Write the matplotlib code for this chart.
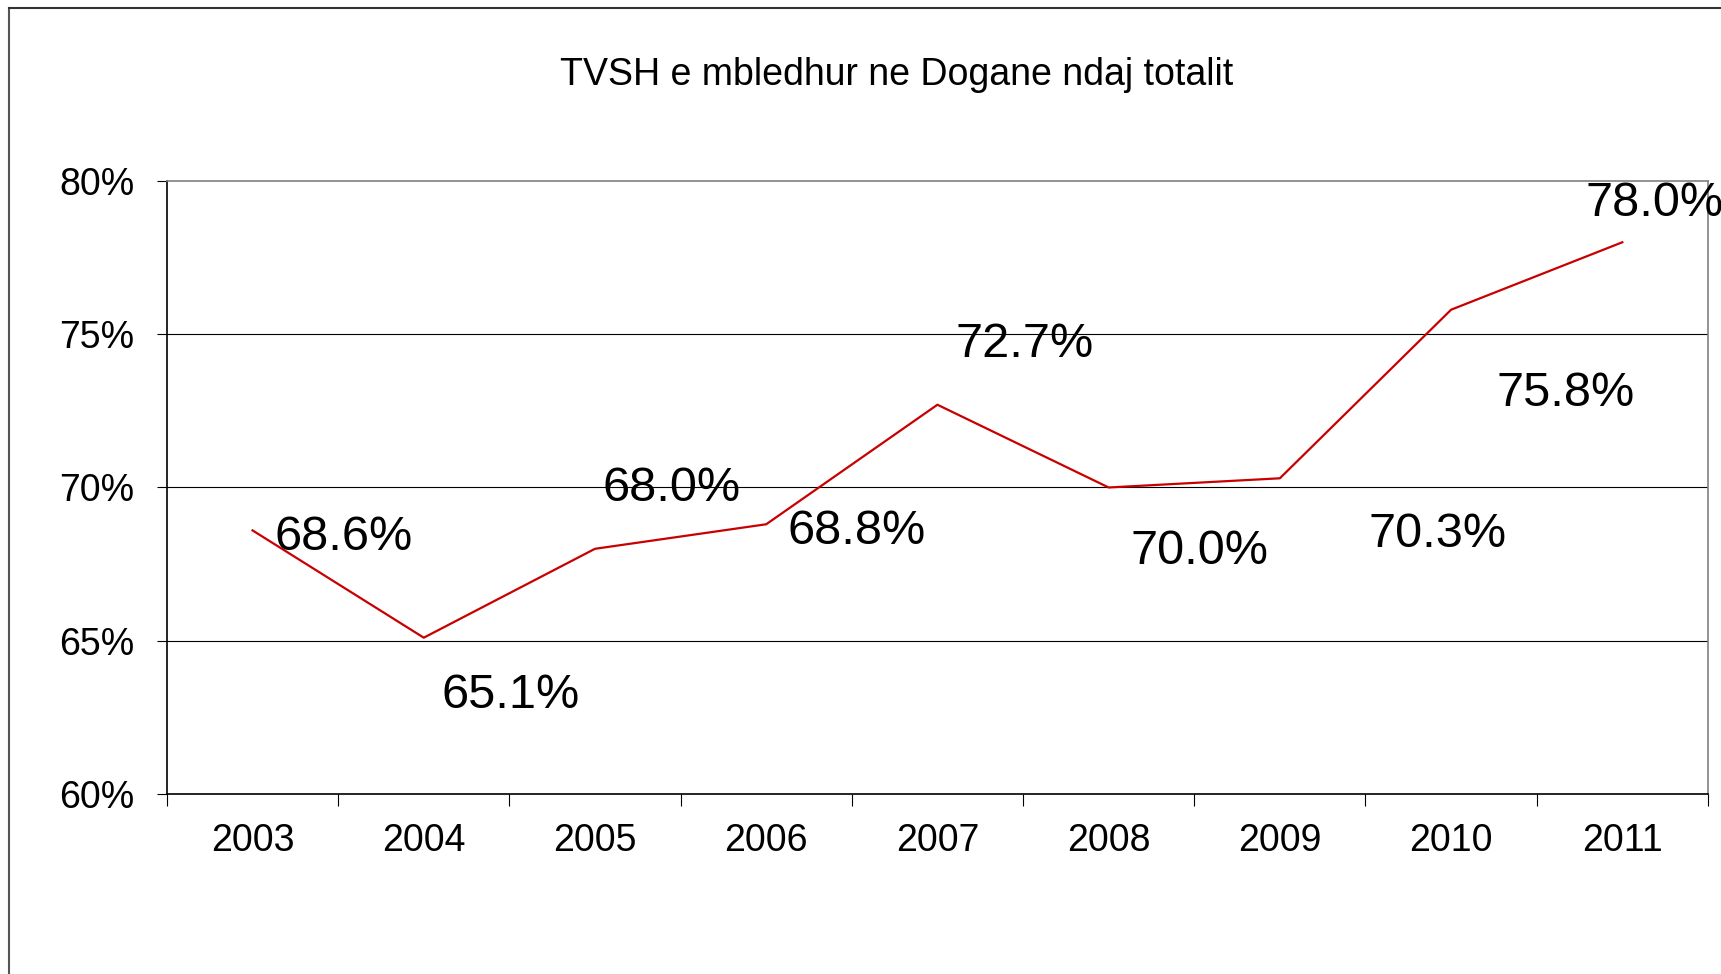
import matplotlib
matplotlib.use("Agg")
import matplotlib.pyplot as plt
from matplotlib.lines import Line2D
import numpy as np

plt.rcParams['font.family'] = ['Liberation Sans', 'DejaVu Sans']

# data
years = ["2003", "2004", "2005", "2006", "2007", "2008", "2009", "2010", "2011"]
vat_share = [68.6, 65.1, 68.0, 68.8, 72.7, 70.0, 70.3, 75.8, 78.0]
y_ticks = [60, 65, 70, 75, 80]
title = "TVSH e mbledhur ne Dogane ndaj totalit"

# the labels in the original sit oddly beside their points, offsets in (category, %) units
label_dx = [0.53, 0.51, 0.45, 0.53, 0.51, 0.53, 0.92, 0.67, 0.19]
label_dy = [-0.22, -1.9, 1.98, -0.25, 1.95, -2.1, -1.82, -2.72, 1.25]

fig = plt.figure(figsize=(17.21, 9.74), dpi=100)
ax = fig.add_axes([0.0970, 0.1848, 0.8954, 0.6294])

x = np.arange(len(years))
ax.plot(x, vat_share, color='#C80000', linewidth=1.6, zorder=3)

for i, v in enumerate(vat_share):
    ax.text(x[i] + label_dx[i], v + label_dy[i], "{:.1f}%".format(v),
            fontsize=35, ha='center', va='center', clip_on=False, zorder=4)

ax.set_xlim(-0.5, len(years) - 0.5)
ax.set_ylim(60, 80)

# ticks on category boundaries, labels at category centres
ax.set_xticks(np.arange(-0.5, len(years), 1.0))
ax.set_xticklabels([])
ax.set_xticks(x, minor=True)
ax.set_xticklabels(years, minor=True, fontsize=27)
ax.tick_params(axis='x', which='major', direction='out', length=8.5, width=0.8, color='black')
ax.tick_params(axis='x', which='minor', length=0, pad=21)

ax.set_yticks(y_ticks)
ax.set_yticklabels(["{}%".format(t) for t in y_ticks], fontsize=27)
ax.tick_params(axis='y', direction='out', length=7.5, width=0.8, color='black', pad=16)

for t in y_ticks[1:-1]:
    ax.axhline(t, color='black', linewidth=0.8, zorder=1)

ax.spines['left'].set_color('black')
ax.spines['bottom'].set_color('black')
ax.spines['top'].set_color('#808080')
ax.spines['right'].set_color('#808080')
for s in ax.spines.values():
    s.set_linewidth(1.2)

fig.text(897 / 1721, 1 - 75 / 974, title, fontsize=27, ha='center', va='center')

# outer chart border (only left and top show in the original)
fig.add_artist(Line2D([9 / 1721, 9 / 1721], [0, 1 - 8 / 974], color='#555555', linewidth=1.5))
fig.add_artist(Line2D([9 / 1721, 1], [1 - 8 / 974, 1 - 8 / 974], color='#333333', linewidth=1.5))

fig.savefig("out.png", dpi=100)
